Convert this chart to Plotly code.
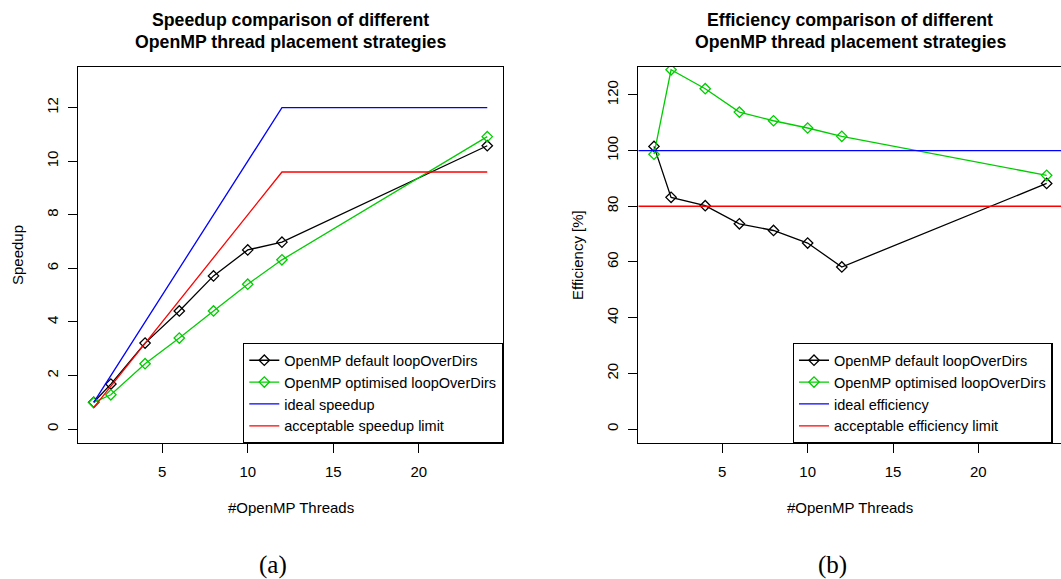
import plotly.graph_objects as go

# ---------------- data ----------------
threads = [1, 2, 4, 6, 8, 10, 12, 24]
speedup_default = [1.00, 1.68, 3.21, 4.41, 5.72, 6.69, 6.98, 10.58]
speedup_optimised = [1.00, 1.28, 2.44, 3.40, 4.41, 5.41, 6.32, 10.92]
ideal_threads = [1, 12, 24]
ideal_speedup = [1, 12, 12]
acceptable_speedup = [0.8, 9.6, 9.6]

eff_default = [101.5, 83.2, 80.2, 73.7, 71.3, 66.8, 58.2, 88.2]
eff_optimised = [98.7, 129.0, 122.2, 113.8, 110.7, 108.1, 105.1, 91.1]
ideal_efficiency = 100
acceptable_efficiency = 80

x_ticks = [5, 10, 15, 20]
speedup_ticks = [0, 2, 4, 6, 8, 10, 12]
eff_ticks = [0, 20, 40, 60, 80, 100, 120]

# ---------------- geometry ----------------
W, H = 1061, 579
def px(x):
    return x / W
def py(y):
    return 1 - y / H

left_x_range = [0.08, 24.92]
right_x_range = [0.08, 24.84]

BLACK = "black"
GREEN = "#00CD00"
BLUE = "#0000FF"
RED = "#FF0000"
FONT = "Liberation Sans, Arial, Helvetica, sans-serif"

fig = go.Figure()

mk = dict(symbol="diamond-open", size=8, line=dict(width=1.3))

# left panel
fig.add_trace(go.Scatter(x=threads, y=speedup_default, mode="lines+markers",
                         name="OpenMP default loopOverDirs",
                         line=dict(color=BLACK, width=1.3),
                         marker=dict(color=BLACK, **mk),
                         xaxis="x", yaxis="y", legend="legend"))
fig.add_trace(go.Scatter(x=threads, y=speedup_optimised, mode="lines+markers",
                         name="OpenMP optimised loopOverDirs",
                         line=dict(color=GREEN, width=1.3),
                         marker=dict(color=GREEN, **mk),
                         xaxis="x", yaxis="y", legend="legend"))
fig.add_trace(go.Scatter(x=ideal_threads, y=ideal_speedup, mode="lines",
                         name="ideal speedup",
                         line=dict(color=BLUE, width=1.3),
                         xaxis="x", yaxis="y", legend="legend"))
fig.add_trace(go.Scatter(x=ideal_threads, y=acceptable_speedup, mode="lines",
                         name="acceptable speedup limit",
                         line=dict(color=RED, width=1.3),
                         xaxis="x", yaxis="y", legend="legend"))

# right panel
fig.add_trace(go.Scatter(x=threads, y=eff_default, mode="lines+markers",
                         name="OpenMP default loopOverDirs",
                         line=dict(color=BLACK, width=1.3),
                         marker=dict(color=BLACK, **mk),
                         xaxis="x2", yaxis="y2", legend="legend2"))
fig.add_trace(go.Scatter(x=threads, y=eff_optimised, mode="lines+markers",
                         name="OpenMP optimised loopOverDirs",
                         line=dict(color=GREEN, width=1.3),
                         marker=dict(color=GREEN, **mk),
                         xaxis="x2", yaxis="y2", legend="legend2"))
fig.add_trace(go.Scatter(x=right_x_range, y=[ideal_efficiency] * 2, mode="lines",
                         name="ideal efficiency",
                         line=dict(color=BLUE, width=1.3),
                         xaxis="x2", yaxis="y2", legend="legend2"))
fig.add_trace(go.Scatter(x=right_x_range, y=[acceptable_efficiency] * 2, mode="lines",
                         name="acceptable efficiency limit",
                         line=dict(color=RED, width=1.3),
                         xaxis="x2", yaxis="y2", legend="legend2"))

ydom = [py(443), py(67)]
axis_common = dict(showline=True, linecolor="black", linewidth=1.3,
                   ticks="outside", ticklen=9, tickwidth=1.3, tickcolor="black",
                   showgrid=False, zeroline=False,
                   tickfont=dict(family=FONT, size=15, color="black"))

leg_font = dict(family=FONT, size=14.5, color="black")
fig.update_layout(
    width=W, height=H, autosize=False,
    margin=dict(l=0, r=0, t=0, b=0, pad=0, autoexpand=False),
    paper_bgcolor="white", plot_bgcolor="white",
    font=dict(family=FONT, size=15, color="black"),
    xaxis=dict(domain=[px(78), px(503)], range=left_x_range, tickvals=x_ticks,
               anchor="y", ticklabelstandoff=6, mirror=True, **axis_common),
    yaxis=dict(domain=ydom, range=[-0.52, 13.52], tickvals=speedup_ticks,
               anchor="x", tickangle=-90, ticklabelstandoff=4, mirror=True, **axis_common),
    xaxis2=dict(domain=[px(638.3), 1], range=right_x_range, tickvals=x_ticks,
                anchor="y2", ticklabelstandoff=6, mirror=True, **axis_common),
    yaxis2=dict(domain=ydom, range=[-5, 130], tickvals=eff_ticks,
                anchor="x2", tickangle=-90, ticklabelstandoff=4, mirror=False, **axis_common),
    legend=dict(x=px(503), xanchor="right", y=py(443), yanchor="bottom",
                bgcolor="white", bordercolor="black", borderwidth=1.3,
                font=leg_font, tracegroupgap=0, itemwidth=30),
    legend2=dict(x=px(792.7), xanchor="left", y=py(443), yanchor="bottom",
                 bgcolor="white", bordercolor="black", borderwidth=1.3,
                 font=leg_font, tracegroupgap=0, itemwidth=30),
    showlegend=True,
)

ann = []
title_font = dict(family=FONT, size=17.7, color="black")
def add_text(text, x, y, font, angle=0):
    ann.append(dict(text=text, x=px(x), y=py(y), xref="paper", yref="paper",
                    xanchor="center", yanchor="middle", textangle=angle,
                    showarrow=False, font=font))

add_text("<b>Speedup comparison of different</b>", 290.5, 20, title_font)
add_text("<b>OpenMP thread placement strategies</b>", 290.5, 42, title_font)
add_text("<b>Efficiency comparison of different</b>", 850.3, 20, title_font)
add_text("<b>OpenMP thread placement strategies</b>", 850.3, 42, title_font)
lab_font = dict(family=FONT, size=15, color="black")
add_text("Speedup", 17, 255, lab_font, -90)
add_text("Efficiency [%]", 577, 255, lab_font, -90)
add_text("#OpenMP Threads", 290.5, 507, lab_font)
add_text("#OpenMP Threads", 850.3, 507, lab_font)
cap_font = dict(family="Liberation Serif, DejaVu Serif, serif", size=25, color="black")
add_text("(a)", 272.5, 565, cap_font)
add_text("(b)", 832.3, 565, cap_font)
fig.update_layout(annotations=ann)

fig.write_html("out.html", config={"displayModeBar": False},
               post_script="document.body.style.margin='0';document.body.style.padding='0';")
